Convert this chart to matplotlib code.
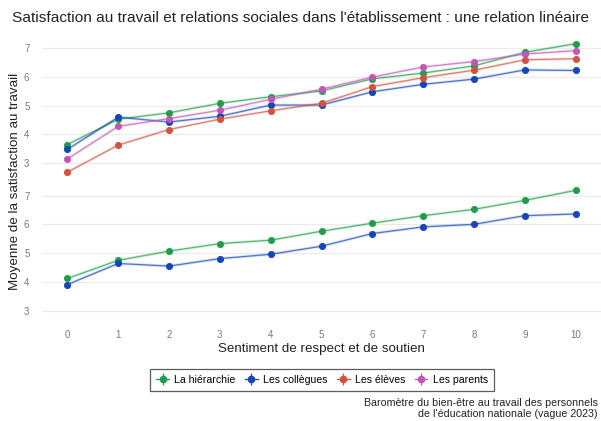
import matplotlib
matplotlib.use("Agg")
import matplotlib.pyplot as plt
from matplotlib.lines import Line2D
from matplotlib.legend_handler import HandlerTuple

plt.rcParams['font.family'] = ['Liberation Sans', 'DejaVu Sans']

x_vals = [0, 1, 2, 3, 4, 5, 6, 7, 8, 9, 10]
series_names = ["La hiérarchie", "Les collègues", "Les élèves", "Les parents"]
colors = ["#1f9e4a", "#1546b8", "#d2523f", "#c056b9"]

# Top panel
top_hierarchie = [3.65, 4.53, 4.75, 5.08, 5.31, 5.51, 5.93, 6.13, 6.38, 6.85, 7.15]
top_collegues = [3.48, 4.60, 4.43, 4.63, 5.02, 5.02, 5.48, 5.74, 5.92, 6.24, 6.22]
top_eleves = [2.69, 3.63, 4.17, 4.53, 4.82, 5.08, 5.66, 5.97, 6.23, 6.59, 6.63]
top_parents = [3.15, 4.28, 4.55, 4.84, 5.22, 5.57, 5.99, 6.34, 6.53, 6.79, 6.91]

# Bottom panel
bot_hierarchie = [4.12, 4.75, 5.07, 5.33, 5.45, 5.76, 6.04, 6.30, 6.52, 6.83, 7.18]
bot_collegues = [3.91, 4.64, 4.55, 4.81, 4.96, 5.24, 5.68, 5.91, 6.00, 6.30, 6.36]

y_ticks = [3, 4, 5, 6, 7]
x_ticks = [0, 1, 2, 3, 4, 5, 6, 7, 8, 9, 10]

W, H = 601, 421
fig = plt.figure(figsize=(W / 100, H / 100), dpi=100)

def px_axes(left, top, right, bottom):
    return fig.add_axes([left / W, 1 - bottom / H, (right - left) / W, (bottom - top) / H])

ax_top = px_axes(42, 36.5, 601, 178.5)
ax_bot = px_axes(42, 184, 601, 326)

grey = "#7a7a7a"

def style(ax, show_x):
    ax.set_xlim(-0.5, 10.5)
    ax.set_ylim(2.47, 7.40)
    ax.set_yticks(y_ticks)
    ax.set_yticklabels([str(v) for v in y_ticks])
    ax.set_xticks(x_ticks)
    if show_x:
        ax.set_xticklabels([str(v) for v in x_ticks])
    else:
        ax.set_xticklabels([])
    for s in ax.spines.values():
        s.set_visible(False)
    ax.tick_params(axis='both', length=0, labelsize=7, labelcolor=grey)
    ax.tick_params(axis='y', pad=9)
    ax.tick_params(axis='x', pad=3)
    ax.grid(axis='y', color="#ebebeb", linewidth=0.9)
    ax.grid(axis='x', visible=False)
    ax.set_axisbelow(True)
    ax.patch.set_alpha(0)

def draw(ax, y, c):
    ax.plot(x_vals, y, color=c, lw=2.2, alpha=0.15, solid_capstyle='round')
    ax.plot(x_vals, y, color=c, lw=0.9, alpha=0.7)
    ax.plot(x_vals, y, linestyle='none', marker='o', ms=4.5, color=c, mec=c, mew=0.6)

style(ax_top, False)
style(ax_bot, True)

for y, c in zip([top_hierarchie, top_collegues, top_eleves, top_parents], colors):
    draw(ax_top, y, c)
for y, c in zip([bot_hierarchie, bot_collegues], colors[:2]):
    draw(ax_bot, y, c)

ax_bot.set_xlabel("Sentiment de respect et de soutien", fontsize=9.6, color="#222222", labelpad=2)

fig.text(15 / W, 1 - 181 / H, "Moyenne de la satisfaction au travail", rotation=90,
         ha='center', va='center', fontsize=9.6, color="#222222")

fig.text(12 / W, 1 - 18 / H,
         "Satisfaction au travail et relations sociales dans l'établissement : une relation linéaire",
         ha='left', va='center', fontsize=11.05, color="#222222")

handles = []
for c in colors:
    h1 = Line2D([], [], color=c, lw=0.9)
    h2 = Line2D([], [], color=c, marker='|', ms=9, mew=0.9, linestyle='none')
    h3 = Line2D([], [], color=c, marker='o', ms=4.5, linestyle='none')
    handles.append((h1, h2, h3))

leg = fig.legend(handles, series_names, loc='center', bbox_to_anchor=(322 / W, 1 - 380 / H),
                 ncol=4, fontsize=7.6, frameon=True, fancybox=False, handlelength=1.2,
                 handletextpad=0.5, columnspacing=0.9, borderpad=0.55,
                 handler_map={tuple: HandlerTuple(ndivide=1, pad=0)})
leg.get_frame().set_edgecolor("#333333")
leg.get_frame().set_linewidth(0.9)

fig.text(598 / W, 1 - 408.5 / H, "Baromètre du bien-être au travail des personnels\nde l'éducation nationale (vague 2023)",
         ha='right', va='center', fontsize=7.7, color="#222222", linespacing=1.1)

fig.savefig("out.png", dpi=100, facecolor="white")
